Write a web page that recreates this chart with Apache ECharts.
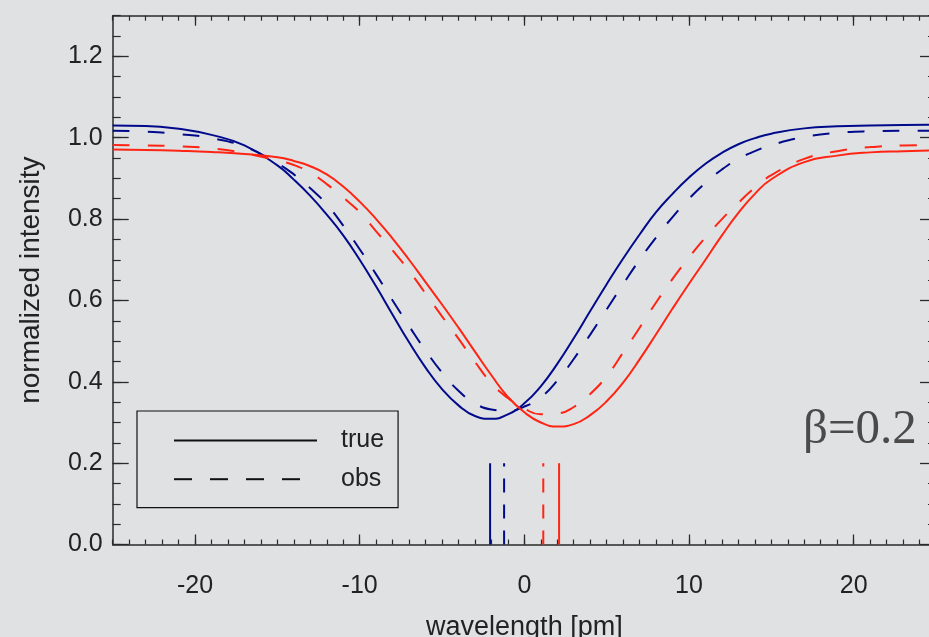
<!DOCTYPE html>
<html><head><meta charset="utf-8">
<script src="https://cdn.jsdelivr.net/npm/echarts@6/dist/echarts.min.js"></script>
<style>html,body{margin:0;padding:0;background:#dfe1e2;}#c{width:929px;height:637px;}</style>
</head><body><div id="c"></div>
<script>
// wavelength samples (pm), shared by the four profiles
const wavelengths = [-25, -23, -21, -19, -17, -15, -14, -13, -12, -11, -10, -9, -8, -7, -6, -5, -4, -3, -2, -1, 0, 1, 2, 3, 4, 5, 6, 7, 8, 9, 10, 11, 12, 13, 14, 15, 17, 19, 21, 23, 25];
// normalized intensity
const blueTrue = [1.030, 1.029, 1.022, 1.007, 0.981, 0.932, 0.897, 0.857, 0.811, 0.760, 0.700, 0.634, 0.565, 0.497, 0.435, 0.382, 0.342, 0.316, 0.309, 0.320, 0.347, 0.389, 0.444, 0.507, 0.574, 0.640, 0.703, 0.762, 0.817, 0.862, 0.902, 0.936, 0.963, 0.984, 0.999, 1.010, 1.023, 1.028, 1.030, 1.031, 1.032];
const blueObs = [1.017, 1.015, 1.009, 0.999, 0.978, 0.937, 0.910, 0.876, 0.836, 0.784, 0.726, 0.664, 0.600, 0.537, 0.477, 0.423, 0.378, 0.347, 0.332, 0.329, 0.339, 0.362, 0.403, 0.456, 0.516, 0.578, 0.640, 0.700, 0.755, 0.805, 0.850, 0.889, 0.922, 0.948, 0.967, 0.982, 1.002, 1.012, 1.016, 1.017, 1.017];
const redObs = [0.982, 0.981, 0.979, 0.974, 0.962, 0.944, 0.933, 0.914, 0.886, 0.853, 0.817, 0.770, 0.723, 0.673, 0.617, 0.561, 0.506, 0.449, 0.397, 0.360, 0.334, 0.320, 0.322, 0.338, 0.370, 0.414, 0.472, 0.533, 0.595, 0.653, 0.706, 0.755, 0.800, 0.840, 0.877, 0.908, 0.948, 0.967, 0.977, 0.981, 0.982];
const redTrue = [0.971, 0.970, 0.968, 0.965, 0.960, 0.952, 0.943, 0.930, 0.910, 0.880, 0.843, 0.800, 0.752, 0.700, 0.645, 0.590, 0.533, 0.474, 0.416, 0.363, 0.325, 0.300, 0.290, 0.296, 0.318, 0.352, 0.398, 0.455, 0.517, 0.580, 0.641, 0.700, 0.760, 0.815, 0.862, 0.898, 0.940, 0.956, 0.964, 0.967, 0.969];

// line centroid markers (pm) and their height
const centroids = { blueTrue: -2.08, blueObs: -1.23, redObs: 1.15, redTrue: 2.11 };
const markerHeight = 0.2;

const xTickValues = [-20, -10, 0, 10, 20];
const yTickValues = [0, 0.2, 0.4, 0.6, 0.8, 1.0, 1.2];
const legendNames = ['true', 'obs'];
const betaLabel = 'β=0.2';

const BLUE = '#020a8c', RED = '#ff2414';
const DASH = [17, 18];
const pairs = (xs, ys) => xs.map((x, i) => [x, ys[i]]);
const vline = (c) => [[c, 0], [c, markerHeight]];

const FONT = '"Liberation Sans", Arial, Helvetica, sans-serif';
const AX = '#2a2a2a';
const G = { left: 112.7, top: 15.7, width: 823.3, height: 528.8, containLabel: false, outerBoundsMode: 'none' };

function curve(name, data, color, dashed) {
  return { type: 'line', name: name, xAxisIndex: 0, yAxisIndex: 0, data: data, symbol: 'none',
    smooth: 0.5, silent: true, z: 3,
    lineStyle: { color: color, width: 2, type: dashed ? DASH : 'solid' } };
}
function marker(data, color, dashed) {
  return { type: 'line', xAxisIndex: 0, yAxisIndex: 0, data: data, symbol: 'none', silent: true, z: 3,
    lineStyle: { color: color, width: 2, type: dashed ? [14, 12] : 'solid' } };
}
const hiddenLine = { show: false, onZero: false };
const mainLine = { show: true, onZero: false, lineStyle: { color: AX, width: 1.5 } };

const option = {
  backgroundColor: '#dfe1e2',
  animation: false,
  grid: [Object.assign({}, G), Object.assign({}, G)],
  xAxis: [
    { gridIndex: 0, type: 'value', position: 'bottom', min: -25, max: 25,
      axisLine: mainLine,
      axisTick: { show: true, inside: true, length: 10, customValues: xTickValues, lineStyle: { color: AX, width: 1.3 } },
      axisLabel: { show: true, customValues: xTickValues, fontSize: 25, color: '#222', margin: 29, fontFamily: FONT },
      splitLine: { show: false },
      name: 'wavelength [pm]', nameLocation: 'middle', nameGap: 70,
      nameTextStyle: { fontSize: 27, color: '#222', fontFamily: FONT } },
    { gridIndex: 0, type: 'value', position: 'top', min: -25, max: 25,
      axisLine: mainLine,
      axisTick: { show: true, inside: true, length: 10, customValues: xTickValues, lineStyle: { color: AX, width: 1.3 } },
      axisLabel: { show: false }, splitLine: { show: false } },
    { gridIndex: 1, type: 'value', position: 'bottom', min: -25, max: 25, interval: 1,
      axisLine: hiddenLine, axisLabel: { show: false }, splitLine: { show: false },
      axisTick: { show: true, inside: true, length: 5, lineStyle: { color: AX, width: 1.2 } } },
    { gridIndex: 1, type: 'value', position: 'top', min: -25, max: 25, interval: 1,
      axisLine: hiddenLine, axisLabel: { show: false }, splitLine: { show: false },
      axisTick: { show: true, inside: true, length: 5, lineStyle: { color: AX, width: 1.2 } } }
  ],
  yAxis: [
    { gridIndex: 0, type: 'value', position: 'left', min: 0, max: 1.3, interval: 0.2,
      axisLine: mainLine,
      axisTick: { show: true, inside: true, length: 16, customValues: yTickValues, lineStyle: { color: AX, width: 1.3 } },
      axisLabel: { show: true, customValues: yTickValues, fontSize: 25, color: '#222', margin: 10, fontFamily: FONT,
        formatter: v => Number(v).toFixed(1) },
      splitLine: { show: false },
      name: 'normalized intensity', nameLocation: 'middle', nameGap: 67,
      nameTextStyle: { fontSize: 28, color: '#222', fontFamily: FONT } },
    { gridIndex: 0, type: 'value', position: 'right', min: 0, max: 1.3, interval: 0.2,
      axisLine: mainLine,
      axisTick: { show: true, inside: true, length: 16, customValues: yTickValues, lineStyle: { color: AX, width: 1.3 } },
      axisLabel: { show: false }, splitLine: { show: false } },
    { gridIndex: 1, type: 'value', position: 'left', min: 0, max: 1.3, interval: 0.05,
      axisLine: hiddenLine, axisLabel: { show: false }, splitLine: { show: false },
      axisTick: { show: true, inside: true, length: 8, lineStyle: { color: AX, width: 1.2 } } },
    { gridIndex: 1, type: 'value', position: 'right', min: 0, max: 1.3, interval: 0.05,
      axisLine: hiddenLine, axisLabel: { show: false }, splitLine: { show: false },
      axisTick: { show: true, inside: true, length: 8, lineStyle: { color: AX, width: 1.2 } } }
  ],
  legend: {
    data: legendNames, orient: 'vertical', left: 137, top: 411,
    padding: [17, 14, 16, 36], itemGap: 13.7, itemWidth: 143, itemHeight: 24,
    borderColor: '#111', borderWidth: 1.2, borderRadius: 0, selectedMode: false,
    itemStyle: { opacity: 0 },
    textStyle: { fontSize: 25, color: '#222', lineHeight: 24, padding: [0, 0, 0, 19], fontFamily: FONT }
  },
  graphic: [
    { type: 'text', left: 803, top: 406, silent: true,
      style: { text: betaLabel, fontSize: 49, fontFamily: '"Liberation Serif", "Times New Roman", serif', fill: '#4a4a4a' } }
  ],
  series: [
    { type: 'line', name: legendNames[0], xAxisIndex: 0, yAxisIndex: 0, data: [], symbol: 'none',
      lineStyle: { color: '#111', width: 1.2, type: 'solid' }, itemStyle: { color: '#111' } },
    { type: 'line', name: legendNames[1], xAxisIndex: 0, yAxisIndex: 0, data: [], symbol: 'none',
      lineStyle: { color: '#111', width: 1.2, type: [18, 18] }, itemStyle: { color: '#111' } },
    curve('blueTrue', pairs(wavelengths, blueTrue), BLUE, false),
    curve('blueObs', pairs(wavelengths, blueObs), BLUE, true),
    curve('redObs', pairs(wavelengths, redObs), RED, true),
    curve('redTrue', pairs(wavelengths, redTrue), RED, false),
    marker(vline(centroids.blueTrue), BLUE, false),
    marker(vline(centroids.blueObs), BLUE, true),
    marker(vline(centroids.redObs), RED, true),
    marker(vline(centroids.redTrue), RED, false)
  ]
};
const chart = echarts.init(document.getElementById('c'), null, { renderer: 'canvas' });
chart.setOption(option);
</script></body></html>
